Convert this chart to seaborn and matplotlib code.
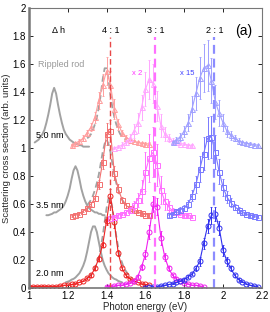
import numpy as np
import pandas as pd
import matplotlib
matplotlib.use("Agg")
import matplotlib.pyplot as plt
import seaborn as sns

# ---------------- data ----------------
# Red (aspect ratio 4:1)
red_x_20 = [1.00, 1.02, 1.04, 1.06, 1.08, 1.10, 1.12, 1.14, 1.16, 1.18, 1.20, 1.22, 1.24, 1.26, 1.28, 1.30,
            1.32, 1.34, 1.36, 1.38, 1.40, 1.42, 1.44, 1.46, 1.48, 1.50, 1.52, 1.54, 1.56, 1.58, 1.60, 1.62]
red_y_20 = [0.01, 0.01, 0.01, 0.01, 0.01, 0.01, 0.01, 0.01, 0.015, 0.02, 0.02, 0.025, 0.03, 0.04, 0.05, 0.07,
            0.09, 0.14, 0.21, 0.31, 0.48, 0.66, 0.47, 0.25, 0.14, 0.09, 0.065, 0.05, 0.04, 0.03, 0.025, 0.02]
red_e_20 = [0, 0, 0, 0, 0, 0, 0, 0, 0, 0, 0, 0, 0, 0, 0, 0.005,
            0.01, 0.01, 0.015, 0.02, 0.03, 0.05, 0.04, 0.02, 0.01, 0.01, 0.005, 0, 0, 0, 0, 0]

red_x_35 = [1.22, 1.24, 1.26, 1.28, 1.30, 1.32, 1.34, 1.36, 1.38, 1.40, 1.42, 1.44, 1.46, 1.48, 1.50, 1.52,
            1.54, 1.56, 1.58, 1.60, 1.62]
red_y_35 = [0.515, 0.52, 0.53, 0.55, 0.57, 0.60, 0.64, 0.74, 0.90, 1.10, 1.12, 0.82, 0.71, 0.63, 0.59, 0.57,
            0.555, 0.545, 0.535, 0.525, 0.52]
red_e_35 = [0.01, 0.01, 0.01, 0.01, 0.01, 0.015, 0.02, 0.03, 0.05, 0.08, 0.08, 0.05, 0.03, 0.02, 0.015, 0.01,
            0.01, 0.01, 0.01, 0.01, 0.01]

red_x_50 = [1.22, 1.24, 1.26, 1.28, 1.30, 1.32, 1.34, 1.36, 1.38, 1.40, 1.42, 1.44, 1.46, 1.48, 1.50, 1.52,
            1.54, 1.56, 1.58, 1.60, 1.62]
red_y_50 = [1.02, 1.035, 1.05, 1.07, 1.11, 1.15, 1.22, 1.34, 1.45, 1.55, 1.45, 1.28, 1.17, 1.11, 1.075, 1.06,
            1.05, 1.04, 1.035, 1.03, 1.03]
red_e_50 = [0.01, 0.01, 0.015, 0.02, 0.02, 0.03, 0.04, 0.06, 0.08, 0.10, 0.10, 0.07, 0.04, 0.02, 0.015, 0.01,
            0.01, 0.01, 0.01, 0.01, 0.01]

# Magenta (aspect ratio 3:1, x 2)
mag_x_20 = [1.40, 1.42, 1.44, 1.46, 1.48, 1.50, 1.52, 1.54, 1.56, 1.58, 1.60, 1.62, 1.64, 1.66, 1.68, 1.70,
            1.72, 1.74, 1.76, 1.78, 1.80, 1.82, 1.84, 1.86, 1.88, 1.90]
mag_y_20 = [0.01, 0.01, 0.015, 0.02, 0.02, 0.03, 0.035, 0.05, 0.08, 0.15, 0.24, 0.40, 0.60, 0.58, 0.36, 0.22,
            0.14, 0.09, 0.065, 0.05, 0.035, 0.03, 0.02, 0.02, 0.015, 0.01]
mag_e_20 = [0, 0, 0, 0, 0, 0, 0, 0.01, 0.01, 0.02, 0.03, 0.05, 0.06, 0.06, 0.05, 0.03,
            0.02, 0.01, 0.01, 0, 0, 0, 0, 0, 0, 0]

mag_x_35 = [1.42, 1.44, 1.46, 1.48, 1.50, 1.52, 1.54, 1.56, 1.58, 1.60, 1.62, 1.64, 1.66, 1.68, 1.70, 1.72,
            1.74, 1.76, 1.78, 1.80, 1.82, 1.84]
mag_y_35 = [0.50, 0.51, 0.52, 0.53, 0.54, 0.56, 0.59, 0.63, 0.69, 0.83, 0.93, 0.97, 0.88, 0.70, 0.62, 0.58,
            0.55, 0.54, 0.53, 0.52, 0.52, 0.51]
mag_e_35 = [0.01, 0.01, 0.01, 0.01, 0.02, 0.02, 0.03, 0.05, 0.08, 0.14, 0.17, 0.18, 0.15, 0.10, 0.06, 0.04,
            0.02, 0.02, 0.01, 0.01, 0.01, 0.01]

mag_x_50 = [1.44, 1.46, 1.48, 1.50, 1.52, 1.54, 1.56, 1.58, 1.60, 1.62, 1.64, 1.66, 1.68, 1.70, 1.72, 1.74,
            1.76, 1.78, 1.80, 1.82, 1.84]
mag_y_50 = [1.00, 1.01, 1.02, 1.04, 1.07, 1.12, 1.18, 1.29, 1.42, 1.49, 1.46, 1.30, 1.16, 1.10, 1.07, 1.05,
            1.04, 1.03, 1.03, 1.02, 1.02]
mag_e_50 = [0.01, 0.01, 0.02, 0.02, 0.03, 0.05, 0.07, 0.09, 0.12, 0.14, 0.14, 0.11, 0.08, 0.05, 0.03, 0.02,
            0.01, 0.01, 0.01, 0.01, 0.01]

# Blue (aspect ratio 2:1, x 15)
blu_x_20 = [1.60, 1.62, 1.64, 1.66, 1.68, 1.70, 1.72, 1.74, 1.76, 1.78, 1.80, 1.82, 1.84, 1.86, 1.88, 1.90,
            1.92, 1.94, 1.96, 1.98, 2.00, 2.02, 2.04, 2.06, 2.08, 2.10, 2.12, 2.14, 2.16, 2.18]
blu_y_20 = [0.0, 0.005, 0.01, 0.01, 0.015, 0.02, 0.025, 0.03, 0.04, 0.05, 0.06, 0.08, 0.10, 0.14, 0.19, 0.32,
            0.44, 0.52, 0.53, 0.43, 0.27, 0.19, 0.14, 0.09, 0.06, 0.045, 0.03, 0.02, 0.015, 0.01]
blu_e_20 = [0, 0, 0, 0, 0, 0, 0, 0, 0, 0, 0.01, 0.01, 0.01, 0.02, 0.03, 0.04,
            0.05, 0.06, 0.05, 0.05, 0.04, 0.03, 0.02, 0.01, 0.01, 0, 0, 0, 0, 0]

blu_x_35 = [1.72, 1.74, 1.76, 1.78, 1.80, 1.82, 1.84, 1.86, 1.88, 1.90, 1.92, 1.94, 1.96, 1.98, 2.00, 2.02,
            2.04, 2.06, 2.08, 2.10, 2.12, 2.14, 2.16, 2.18]
blu_y_35 = [0.52, 0.53, 0.55, 0.56, 0.57, 0.60, 0.66, 0.74, 0.85, 0.96, 1.07, 1.08, 0.97, 0.83, 0.72, 0.65,
            0.61, 0.58, 0.56, 0.54, 0.53, 0.52, 0.515, 0.51]
blu_e_35 = [0.01, 0.01, 0.01, 0.02, 0.02, 0.03, 0.04, 0.06, 0.09, 0.12, 0.15, 0.15, 0.12, 0.09, 0.06, 0.04,
            0.03, 0.02, 0.02, 0.01, 0.01, 0.01, 0.01, 0.01]

blu_x_50 = [1.74, 1.76, 1.78, 1.80, 1.82, 1.84, 1.86, 1.88, 1.90, 1.92, 1.94, 1.96, 1.98, 2.00, 2.02, 2.04,
            2.06, 2.08, 2.10, 2.12, 2.14, 2.16, 2.18]
blu_y_50 = [1.04, 1.06, 1.08, 1.12, 1.18, 1.28, 1.39, 1.50, 1.57, 1.59, 1.48, 1.33, 1.25, 1.18, 1.12, 1.09,
            1.07, 1.05, 1.04, 1.035, 1.03, 1.025, 1.02]
blu_e_50 = [0.01, 0.02, 0.03, 0.04, 0.06, 0.09, 0.12, 0.15, 0.17, 0.18, 0.16, 0.12, 0.09, 0.06, 0.04, 0.03,
            0.02, 0.02, 0.01, 0.01, 0.01, 0.01, 0.01]

# Rippled rod (grey solid)
rip_x_50 = [1.03, 1.04, 1.05, 1.06, 1.07, 1.08, 1.09, 1.10, 1.11, 1.12, 1.13, 1.14, 1.15, 1.16, 1.17, 1.18,
            1.19, 1.20, 1.21, 1.22, 1.23, 1.24, 1.25, 1.26, 1.27, 1.28, 1.29, 1.30, 1.31]
rip_y_50 = [1.04, 1.05, 1.06, 1.08, 1.10, 1.13, 1.18, 1.24, 1.31, 1.39, 1.43, 1.39, 1.31, 1.24, 1.18, 1.13,
            1.10, 1.08, 1.06, 1.05, 1.04, 1.03, 1.03, 1.02, 1.02, 1.01, 1.01, 1.01, 1.01]
rip_x_35 = [1.09, 1.10, 1.11, 1.12, 1.13, 1.14, 1.15, 1.16, 1.17, 1.18, 1.19, 1.20, 1.21, 1.22, 1.23, 1.24,
            1.25, 1.26, 1.27, 1.28, 1.29, 1.30, 1.31, 1.32, 1.33, 1.34, 1.35, 1.36, 1.37, 1.38, 1.39]
rip_y_35 = [0.52, 0.52, 0.525, 0.53, 0.54, 0.54, 0.55, 0.56, 0.57, 0.59, 0.62, 0.66, 0.71, 0.78, 0.84, 0.87,
            0.84, 0.78, 0.71, 0.66, 0.62, 0.59, 0.57, 0.56, 0.55, 0.54, 0.54, 0.53, 0.53, 0.52, 0.52]
rip_x_20 = [1.19, 1.20, 1.21, 1.22, 1.23, 1.24, 1.25, 1.26, 1.27, 1.28, 1.29, 1.30, 1.31, 1.32, 1.33, 1.34,
            1.35, 1.36, 1.37, 1.38, 1.39, 1.40, 1.41, 1.42, 1.43, 1.44, 1.45, 1.46, 1.47, 1.48]
rip_y_20 = [0.04, 0.045, 0.05, 0.06, 0.065, 0.075, 0.09, 0.105, 0.13, 0.16, 0.20, 0.26, 0.33, 0.40, 0.44, 0.44,
            0.40, 0.33, 0.26, 0.20, 0.16, 0.13, 0.105, 0.09, 0.075, 0.065, 0.06, 0.05, 0.045, 0.04]

# Grey dashed curves near the 4:1 peak
dash_x = [1.30, 1.31, 1.32, 1.33, 1.34, 1.35, 1.36, 1.37, 1.38, 1.39, 1.40, 1.41, 1.42, 1.43, 1.44, 1.45,
          1.46, 1.47, 1.48, 1.49, 1.50]
dash_y_50 = [1.07, 1.08, 1.10, 1.13, 1.17, 1.22, 1.29, 1.38, 1.49, 1.57, 1.57, 1.49, 1.38, 1.29, 1.22, 1.17,
             1.13, 1.10, 1.08, 1.07, 1.06]
dash_y_35 = [0.59, 0.61, 0.63, 0.66, 0.70, 0.75, 0.81, 0.89, 0.97, 1.03, 1.06, 1.03, 0.97, 0.89, 0.81, 0.75,
             0.70, 0.66, 0.63, 0.61, 0.59]
dash_x_20 = [1.30, 1.31, 1.32, 1.33, 1.34, 1.35, 1.36, 1.37, 1.38, 1.39, 1.40, 1.41, 1.42, 1.43, 1.44, 1.45,
             1.46, 1.47, 1.48, 1.49, 1.50, 1.51, 1.52, 1.53]
dash_y_20 = [0.07, 0.08, 0.10, 0.12, 0.14, 0.18, 0.22, 0.29, 0.37, 0.47, 0.57, 0.64, 0.64, 0.57, 0.47, 0.37,
             0.29, 0.22, 0.18, 0.14, 0.12, 0.10, 0.08, 0.07]

peak_lines = [1.42, 1.652, 1.955]
peak_labels = ["4 : 1", "3 : 1", "2 : 1"]
x_ticks = [1.0, 1.2, 1.4, 1.6, 1.8, 2.0, 2.2]
x_tick_labels = ["1", "1.2", "1.4", "1.6", "1.8", "2", "2.2"]
y_ticks = [0, 0.2, 0.4, 0.6, 0.8, 1.0, 1.2, 1.4, 1.6, 1.8, 2.0]
y_tick_labels = ["0", "0.2", "0.4", "0.6", "0.8", "1", "1.2", "1.4", "1.6", "1.8", "2"]

# ---------------- plotting ----------------
sns.set_theme(style="ticks")
plt.rcParams['font.family'] = ['Liberation Sans', 'DejaVu Sans']

fig = plt.figure(figsize=(2.7, 3.12), dpi=100)
ax = fig.add_axes([0.107, 0.077, 0.863, 0.897])

grey = '#a2a2a2'

# rippled rod solid curves
for xs, ys in [(rip_x_50, rip_y_50), (rip_x_35, rip_y_35), (rip_x_20, rip_y_20)]:
    sns.lineplot(x=xs, y=ys, ax=ax, color=grey, linewidth=1.4, sort=False)

# grey dashed curves
for xs, ys in [(dash_x, dash_y_50), (dash_x, dash_y_35), (dash_x_20, dash_y_20)]:
    sns.lineplot(x=xs, y=ys, ax=ax, color=grey, linewidth=1.3, dashes=False,
                 linestyle=(0, (3.5, 2)), sort=False)

series = [
    (red_x_50, red_y_50, red_e_50, '#ff9d9d', '^'),
    (red_x_35, red_y_35, red_e_35, '#f27070', 's'),
    (red_x_20, red_y_20, red_e_20, '#ee2222', 'o'),
    (mag_x_50, mag_y_50, mag_e_50, '#ffa6ff', '^'),
    (mag_x_35, mag_y_35, mag_e_35, '#ff6fff', 's'),
    (mag_x_20, mag_y_20, mag_e_20, '#f020f0', 'o'),
    (blu_x_50, blu_y_50, blu_e_50, '#a0a0ff', '^'),
    (blu_x_35, blu_y_35, blu_e_35, '#7878ff', 's'),
    (blu_x_20, blu_y_20, blu_e_20, '#3030ee', 'o'),
]
for xs, ys, es, c, m in series:
    ax.errorbar(xs, ys, yerr=es, fmt='none', ecolor=c, elinewidth=0.7, capsize=1.0, capthick=0.6)
    sns.lineplot(x=xs, y=ys, ax=ax, color=c, linewidth=0.8, marker=m, markersize=3.6,
                 markerfacecolor='none', markeredgecolor=c, markeredgewidth=0.7, sort=False)

# vertical dashed peak lines
line_cols = ['#e84848', '#ff70ff', '#8c8cff']
line_w = [1.0, 1.6, 1.6]
for xv, c, lw in zip(peak_lines, line_cols, line_w):
    ax.plot([xv, xv], [0, 1.79], color=c, linewidth=lw, linestyle=(0, (4, 2.2)))

# labels
fs = 6.5
for xv, lab in zip(peak_lines, peak_labels):
    ax.text(xv, 1.84, lab, ha='center', va='center', fontsize=fs, color='black')
ax.text(1.155, 1.84, "Δ h", ha='center', va='center', fontsize=fs, color='black')
ax.text(2.105, 1.84, "(a)", ha='center', va='center', fontsize=10, color='black')
ax.text(1.165, 1.60, "Rippled rod", ha='center', va='center', fontsize=fs, color='#999999')
ax.text(1.555, 1.53, "x 2", ha='center', va='center', fontsize=5.5, color='#ff33ff')
ax.text(1.815, 1.53, "x 15", ha='center', va='center', fontsize=5.5, color='#4040ff')
ax.text(1.11, 1.09, "5.0 nm", ha='center', va='center', fontsize=fs, color='black')
ax.text(1.11, 0.59, "3.5 nm", ha='center', va='center', fontsize=fs, color='black')
ax.text(1.11, 0.10, "2.0 nm", ha='center', va='center', fontsize=fs, color='black')

ax.set_xlim(1.0, 2.2)
ax.set_ylim(0, 2.0)
ax.set_xticks(x_ticks)
ax.set_xticklabels(x_tick_labels, fontsize=7)
ax.set_yticks(y_ticks)
ax.set_yticklabels(y_tick_labels, fontsize=7)
ax.tick_params(direction='in', length=3, width=0.6, top=True, right=True, pad=2, colors='black')
ax.set_xlabel("Photon energy (eV)", fontsize=7, labelpad=1)
ax.set_ylabel("Scattering cross section (arb. units)", fontsize=6.8, labelpad=1)

for s in ['top', 'right']:
    ax.spines[s].set_color('#777777')
    ax.spines[s].set_linewidth(0.8)
ax.spines['left'].set_color('#777777')
ax.spines['left'].set_linewidth(1.8)
ax.spines['bottom'].set_color('#777777')
ax.spines['bottom'].set_linewidth(1.2)

fig.savefig("out.png", dpi=100)
